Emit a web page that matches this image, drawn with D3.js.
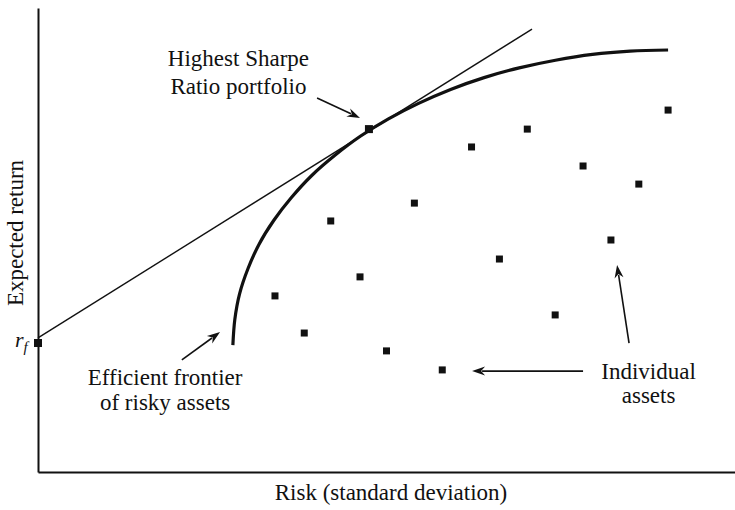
<!DOCTYPE html>
<html>
<head>
<meta charset="utf-8">
<script src="https://cdn.jsdelivr.net/npm/d3@7"></script>
<style>
  html, body { margin: 0; padding: 0; background: #fff; }
  svg { display: block; }
  text { font-family: "Liberation Serif", "Times New Roman", serif; fill: #111; }
</style>
</head>
<body>
<svg id="chart" width="735" height="510"></svg>
<script>
// ---- Data (risk, expected return in arbitrary units) ----
const assetRisk   = [8.5, 9.55, 10.5, 11.55, 12.5, 13.5, 14.5, 15.55, 16.55, 17.55, 18.55, 19.55, 20.55, 21.55, 22.6];
const assetReturn = [7.59, 5.99, 10.82, 8.41, 5.22, 11.59, 4.40, 14.01, 9.18, 14.78, 6.77, 13.19, 10.00, 12.41, 15.60];

const frontierRisk   = [6.99, 7.06, 7.23, 7.53, 7.93, 8.46, 9.09, 9.81, 10.65, 11.56, 12.57, 13.65, 14.80, 16.00, 17.26, 18.56, 19.89, 21.24, 22.60];
const frontierReturn = [5.47, 6.58, 7.68, 8.76, 9.82, 10.85, 11.83, 12.77, 13.65, 14.47, 15.22, 15.89, 16.49, 17.00, 17.42, 17.75, 18.00, 18.14, 18.19];

const rfPoint      = { risk: 0, ret: 5.56 };
const sharpePoint  = { risk: 11.87, ret: 14.78 };
const cmlRisk   = [0, 17.72];
const cmlReturn = [5.78, 19.09];

const axisLabels = { x: "Risk (standard deviation)", y: "Expected return" };

const annotationLines = [
  { lines: ["Highest Sharpe", "Ratio portfolio"], risk: 7.19, ret: [17.48, 16.31] },
  { lines: ["Efficient frontier", "of risky assets"], risk: 4.56, ret: [3.75, 2.68] },
  { lines: ["Individual", "assets"], risk: 21.9, ret: [4.02, 2.99] }
];
const arrows = [
  { from: [10.01, 16.12], to: [11.55, 15.26] },
  { from: [5.16, 4.83],  to: [6.53, 6.03] },
  { from: [19.55, 4.35], to: [15.57, 4.35] },
  { from: [21.20, 5.56], to: [20.77, 8.92] }
];

// ---- Layout ----
const svg = d3.select("#chart");
const x = d3.scaleLinear().domain([0, 25]).range([38, 735]);
const y = d3.scaleLinear().domain([0, 20]).range([472, 8]);

// axes (no ticks)
const xAxis = d3.axisBottom(x).tickValues([]).tickSizeOuter(0);
const yAxis = d3.axisLeft(y).tickValues([]).tickSizeOuter(0);
svg.append("g").attr("transform", `translate(0,${y(0)})`).call(xAxis)
  .select(".domain").attr("stroke", "#111").attr("stroke-width", 2);
svg.append("g").attr("transform", `translate(${x(0)},0)`).call(yAxis)
  .select(".domain").attr("stroke", "#111").attr("stroke-width", 2);

// axis titles
svg.append("text").attr("x", 391).attr("y", 500).attr("text-anchor", "middle")
  .attr("font-size", 23).text(axisLabels.x);
svg.append("text").attr("transform", "translate(23,233) rotate(-90)")
  .attr("text-anchor", "middle").attr("font-size", 23).text(axisLabels.y);

// capital market line
const line = d3.line().x(d => x(d[0])).y(d => y(d[1]));
svg.append("path")
  .datum(cmlRisk.map((r, i) => [r, cmlReturn[i]]))
  .attr("d", line).attr("fill", "none").attr("stroke", "#111").attr("stroke-width", 1.4);

// efficient frontier
const curve = d3.line().x(d => x(d[0])).y(d => y(d[1])).curve(d3.curveCatmullRom.alpha(0.5));
svg.append("path")
  .datum(frontierRisk.map((r, i) => [r, frontierReturn[i]]))
  .attr("d", curve).attr("fill", "none").attr("stroke", "#111").attr("stroke-width", 3.2)
  .attr("stroke-linecap", "butt");

// asset markers
const s = 7;
svg.append("g").selectAll("rect")
  .data(assetRisk.map((r, i) => [r, assetReturn[i]]))
  .join("rect")
  .attr("x", d => x(d[0]) - s / 2).attr("y", d => y(d[1]) - s / 2)
  .attr("width", s).attr("height", s).attr("fill", "#111");

// tangent portfolio and rf markers
svg.append("rect").attr("x", x(sharpePoint.risk) - 4).attr("y", y(sharpePoint.ret) - 4)
  .attr("width", 8).attr("height", 8).attr("fill", "#111");
svg.append("rect").attr("x", x(rfPoint.risk) - 4).attr("y", y(rfPoint.ret) - 4)
  .attr("width", 8).attr("height", 8).attr("fill", "#111");

// rf label
const rf = svg.append("text").attr("x", x(rfPoint.risk) - 23).attr("y", y(rfPoint.ret) + 4)
  .attr("font-size", 22).attr("font-style", "italic");
rf.append("tspan").text("r");
rf.append("tspan").attr("font-size", 15).attr("dy", 5).attr("dx", 0).text("f");

// arrows
arrows.forEach(a => {
  const x1 = x(a.from[0]), y1 = y(a.from[1]), x2 = x(a.to[0]), y2 = y(a.to[1]);
  const ang = Math.atan2(y2 - y1, x2 - x1);
  const L = 13, W = 4.5, back = 10;
  const bx = x2 - back * Math.cos(ang), by = y2 - back * Math.sin(ang);
  svg.append("line").attr("x1", x1).attr("y1", y1).attr("x2", bx).attr("y2", by)
    .attr("stroke", "#111").attr("stroke-width", 1.6);
  const p1 = [x2 - L * Math.cos(ang) + W * Math.sin(ang), y2 - L * Math.sin(ang) - W * Math.cos(ang)];
  const p2 = [x2 - L * Math.cos(ang) - W * Math.sin(ang), y2 - L * Math.sin(ang) + W * Math.cos(ang)];
  const pm = [x2 - (L - 4) * Math.cos(ang), y2 - (L - 4) * Math.sin(ang)];
  svg.append("path").attr("d", `M${x2},${y2}L${p1[0]},${p1[1]}L${pm[0]},${pm[1]}L${p2[0]},${p2[1]}Z`)
    .attr("fill", "#111");
});

// annotation text
annotationLines.forEach(a => {
  a.lines.forEach((t, i) => {
    svg.append("text").attr("x", x(a.risk)).attr("y", y(a.ret[i]))
      .attr("text-anchor", "middle").attr("font-size", 23).text(t);
  });
});
</script>
</body>
</html>
